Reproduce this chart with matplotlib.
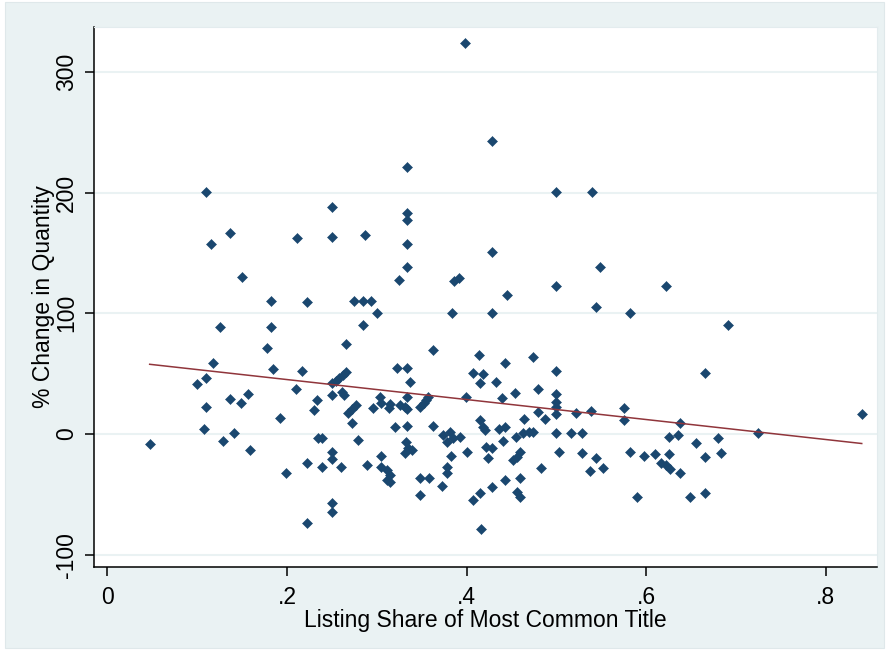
import matplotlib.pyplot as plt
import matplotlib.patches as mpatches
import numpy as np

plt.rcParams['font.family'] = ['Liberation Sans', 'DejaVu Sans']
plt.rcParams['axes.unicode_minus'] = False

NAVY = "#1A476F"
MAROON = "#90353B"
BLUISHGRAY = "#EAF2F3"

# listing share of the most common title, and % change in quantity
share = [
    0.047, 0.100, 0.107, 0.110, 0.110, 0.110, 0.115, 0.117, 0.125, 0.129,
    0.136, 0.136, 0.141, 0.149, 0.150, 0.157, 0.159, 0.178, 0.182, 0.182,
    0.184, 0.192, 0.199,
    0.210, 0.211, 0.217, 0.222, 0.222, 0.222, 0.230, 0.233, 0.235, 0.239,
    0.239, 0.250, 0.250, 0.250, 0.254, 0.258, 0.262, 0.266, 0.250, 0.250,
    0.250, 0.250, 0.250, 0.260, 0.261, 0.263, 0.266, 0.268, 0.272, 0.277,
    0.272, 0.274, 0.285, 0.294, 0.279, 0.285, 0.287, 0.289, 0.296, 0.300,
    0.303, 0.305, 0.305, 0.305, 0.311, 0.313, 0.315, 0.315, 0.311, 0.315,
    0.320, 0.322, 0.325, 0.326, 0.331, 0.334, 0.334, 0.334, 0.334, 0.334,
    0.334, 0.334, 0.334, 0.334, 0.333, 0.335, 0.339, 0.331, 0.337, 0.348,
    0.352, 0.355, 0.357, 0.348, 0.358, 0.348, 0.363, 0.363, 0.374, 0.381,
    0.385, 0.378, 0.393, 0.383, 0.378, 0.378, 0.373, 0.384, 0.386, 0.392,
    0.398, 0.399,
    0.400, 0.407, 0.407, 0.414, 0.415, 0.415, 0.418, 0.418, 0.420, 0.415,
    0.416, 0.422, 0.428, 0.424, 0.428, 0.428, 0.428, 0.428, 0.433, 0.436,
    0.439, 0.441, 0.443, 0.443, 0.443, 0.445, 0.452, 0.454, 0.455, 0.456,
    0.459, 0.456, 0.459, 0.459, 0.463, 0.464, 0.469, 0.474, 0.474, 0.479,
    0.479, 0.483, 0.487, 0.500, 0.500, 0.500, 0.500, 0.500, 0.500, 0.500,
    0.500,
    0.503, 0.516, 0.522, 0.529, 0.529, 0.537, 0.538, 0.540, 0.544, 0.544,
    0.549, 0.552, 0.575, 0.575, 0.582, 0.582, 0.590, 0.598, 0.610, 0.617,
    0.622, 0.622, 0.625, 0.625, 0.626, 0.635, 0.638, 0.638, 0.649, 0.655,
    0.665, 0.665, 0.665, 0.680, 0.683, 0.691, 0.725, 0.840,
]
pct_change = [
    -8.6, 41.2, 4.1, 46.1, 22.6, 200.7, 157.0, 58.5, 88.4, -5.5,
    166.8, 29.0, 0.5, 26.0, 130.3, 33.4, -13.3, 71.0, 110.5, 88.4,
    53.9, 13.5, -32.0,
    37.0, 162.0, 52.5, 109.0, -24.3, -74.0, 19.9, 28.2, -3.6, -3.0,
    -27.0, 188.3, 163.5, 42.0, 44.0, 46.5, 48.5, 51.0, 32.3, -14.7,
    -21.0, -57.5, -64.4, -27.0, 35.0, 32.3, 74.5, 17.7, 20.4, 24.0,
    8.9, 110.4, 110.4, 110.4, -5.0, 90.3, 165.0, -25.5, 21.3, 100.5,
    30.9, 25.4, -18.0, -27.0, -29.8, 21.3, 24.9, -34.0, -38.0, -39.5,
    5.5, 54.4, 127.6, 24.0, 22.6, 30.9, 20.4, 54.4, 6.6, 221.0,
    182.7, 177.3, 157.2, 138.4, -6.4, -11.9, -13.3, -16.0, 43.4, 22.6,
    25.4, 28.2, 30.9, -36.2, -36.2, -50.5, 69.6, 6.6, -0.8, 1.9,
    -3.6, -6.4, -2.8, -18.2, -27.0, -32.6, -43.0, 100.5, 127.0, 129.0,
    324.0, 30.9,
    -14.7, 50.8, -55.0, 65.4, 42.0, 11.6, 49.7, 5.5, 3.3, -49.2,
    -78.7, -10.5, -11.9, -20.1, 243.0, 151.0, 100.5, -43.6, 43.4, 3.9,
    29.5, -5.5, 6.0, 58.6, -38.0, 115.0, -21.5, 34.2, -2.8, -18.8,
    -14.7, -47.8, -52.0, -36.2, 0.5, 12.2, 1.9, 1.9, 64.0, 37.3,
    18.5, -28.4, 12.2, 200.7, 122.9, 52.5, 32.9, 26.8, 22.6, 16.6,
    1.1,
    -14.7, 1.1, 17.1, 1.1, -16.0, -30.4, 19.0, 200.7, 105.5, -20.1,
    138.5, -28.4, 21.3, 11.6, 100.5, -15.2, -52.5, -18.0, -16.6, -23.8,
    122.9, -25.7, -2.2, -16.6, -29.0, -0.8, 8.9, -32.0, -52.5, -7.2,
    50.8, -19.3, -49.2, -3.6, -16.0, 90.3, 0.5, 16.3,
]

x_ticks = [0, 0.2, 0.4, 0.6, 0.8]
x_ticklabels = ["0", ".2", ".4", ".6", ".8"]
y_ticks = [-100, 0, 100, 200, 300]

share = np.array(share)
pct_change = np.array(pct_change)

# linear fit line over the observed range
slope, intercept = np.polyfit(share, pct_change, 1)
xfit = np.array([share.min(), share.max()])
yfit = intercept + slope * xfit

fig = plt.figure(figsize=(8.89, 6.50), dpi=100)
fig.patch.set_facecolor("white")
fig.patches.append(mpatches.Rectangle((5 / 889, 2 / 650), 879 / 889, 646 / 650,
                                      transform=fig.transFigure, facecolor=BLUISHGRAY,
                                      edgecolor="#dfe8ea", linewidth=0.8, zorder=-10))

ax = fig.add_axes([94 / 889, 1 - 567 / 650, (877 - 94) / 889, (567 - 27) / 650])
ax.set_facecolor("white")

ax.plot(share, pct_change, linestyle="none", marker="D", markersize=5.6,
        markerfacecolor=NAVY, markeredgecolor=NAVY, markeredgewidth=0.4, zorder=3)
ax.plot(xfit, yfit, color=MAROON, linewidth=1.1, zorder=4)

ax.set_xlim(-0.015, 0.857)
ax.set_ylim(-110.2, 337.2)
ax.set_xticks(x_ticks)
ax.set_xticklabels(x_ticklabels)
ax.set_yticks(y_ticks)

ax.yaxis.grid(True, color=BLUISHGRAY, linewidth=1.5)
ax.set_axisbelow(True)

for side in ["top", "right"]:
    ax.spines[side].set_color("#e3ecee")
    ax.spines[side].set_linewidth(0.8)
for side in ["left", "bottom"]:
    ax.spines[side].set_color("black")
    ax.spines[side].set_linewidth(1.1)

ax.tick_params(axis="both", length=6.5, width=1.1, color="black", labelsize=16.5)
ax.tick_params(axis="x", pad=7)
ax.tick_params(axis="y", pad=5, labelrotation=90)
for lbl in ax.get_yticklabels():
    lbl.set_verticalalignment("center")

ax.set_xlabel("Listing Share of Most Common Title", fontsize=16.5, labelpad=0)
ax.set_ylabel("% Change in Quantity", fontsize=16.5, labelpad=0)

fig.savefig("out.png", dpi=100)
